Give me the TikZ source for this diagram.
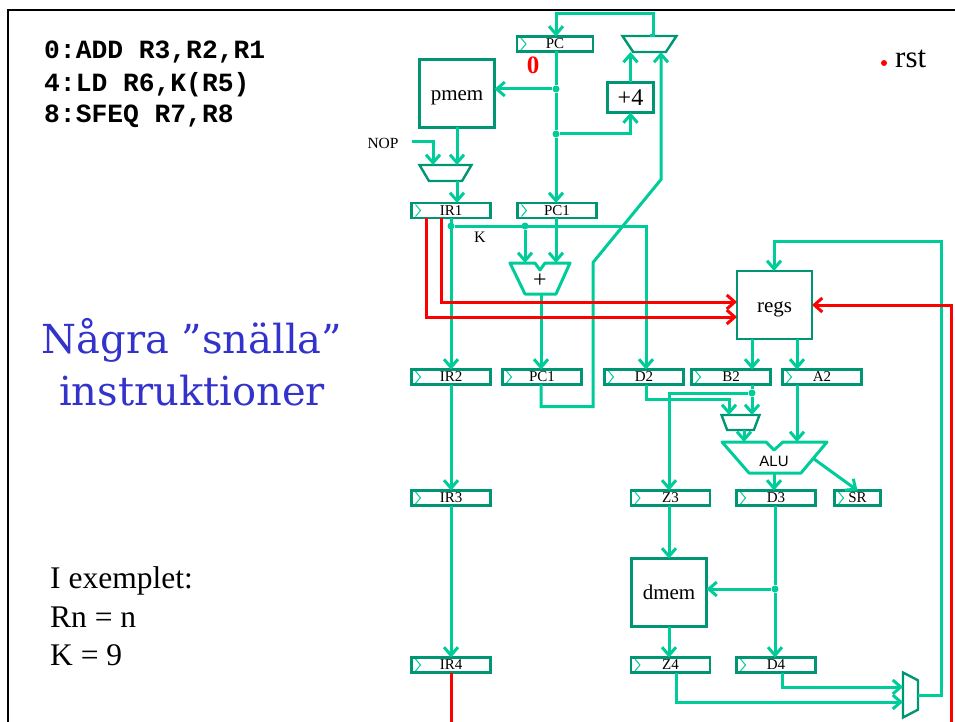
\documentclass[tikz,border=0pt]{standalone}
\usepackage{fontspec}
\setmainfont{Liberation Serif}
\setsansfont{Liberation Sans}
\setmonofont{Liberation Mono}
\newfontfamily\titlefont{DejaVu Serif}
\usetikzlibrary{arrows.meta, shapes.geometric}
\definecolor{wirecol}{RGB}{0,204,153}
\definecolor{boxcol}{RGB}{0,150,115}
\definecolor{titlecol}{RGB}{51,51,204}
\newcommand{\fsz}[1]{\fontsize{#1}{#1}\selectfont}
\newcommand{\blocktext}[1]{\raisebox{-7pt}[0pt][0pt]{#1}}
\tikzset{
  reg/.style   = {draw=boxcol, line width=2.4pt, minimum width=79pt, minimum height=15pt,
                  inner sep=0pt, outer sep=0pt, font=\fsz{15},
                  path picture={\draw[wirecol, line width=1pt]
                    ([xshift=4pt,yshift=6pt]path picture bounding box.west) -- ++(5pt,-6pt) -- ++(-5pt,-6pt);}},
  block/.style = {draw=boxcol, line width=2.6pt, minimum width=75pt, minimum height=68pt,
                  inner sep=0pt, outer sep=0pt, font=\fsz{21}},
  mux/.style   = {draw=boxcol, line width=2.4pt, trapezium, trapezium stretches=true,
                  shape border rotate=180, inner sep=1pt, outer sep=0pt},
  dot/.style   = {circle, fill=wirecol, minimum size=7pt, inner sep=0pt},
  wire/.style  = {wirecol, line width=3pt},
  arrow/.style = {wire, -{Straight Barb[length=8pt, width=14pt, line width=3pt]}},
  rwire/.style = {wire, red},
  rarrow/.style = {arrow, red},
  alupath/.style = {wirecol, line width=3pt, line join=round},
  ghost/.style = {inner sep=0pt},
  code/.style  = {ghost, anchor=base west, font=\fsz{26.3}\ttfamily\bfseries},
  title/.style = {ghost, anchor=base, text=titlecol, font=\fsz{40}\titlefont},
  note/.style  = {ghost, anchor=base west, font=\fsz{31.5}},
}

\begin{document}
\begin{tikzpicture}[x=1pt, y=-1pt]
  \useasboundingbox (0,0) rectangle (955,722);
  \node[ghost, coordinate] at (8,722)  (fbl) {};
  \node[ghost, coordinate] at (8,10)   (ftl) {};
  \node[ghost, coordinate] at (955,10) (ftr) {};
  \draw[line width=2.6pt, line join=miter] (fbl) -- (ftl) -- (ftr);

  % texts
  \node[code] at (44,59)  (code0) {0:ADD R3,R2,R1};
  \node[code] at (44,92)  (code1) {4:LD R6,K(R5)};
  \node[code] at (44,123) (code2) {8:SFEQ R7,R8};
  \node[title] at (192,353) (title1) {Några ”snälla”};
  \node[title] at (192,405) (title2) {instruktioner};
  \node[note] at (50,588) (ex0) {I exemplet:};
  \node[note] at (50,627) (ex1) {Rn = n};
  \node[note] at (50,665) (ex2) {K = 9};
  \node[circle, fill=red, minimum size=6pt, inner sep=0pt] at (884,63) (rstdot) {};
  \node[ghost, anchor=base west, font=\fsz{31}] at (895,68) (rst) {rst};
  \node[ghost, text=red, font=\fsz{25}\bfseries] at (533,65) (zero) {0};
  \node[ghost, font=\fsz{15.5}] at (383,143) (nop) {NOP};
  \node[ghost, font=\fsz{16}] at (480,237) (klab) {K};

  % registers
  \node[reg, minimum width=76pt] at (555,44) (pc) {PC};
  \node[reg] at (451,210.5) (ir1)  {IR1};
  \node[reg] at (557,210.5) (pc1)  {PC1};
  \node[reg] at (451,377)   (ir2)  {IR2};
  \node[reg] at (542,377)   (pc2)  {PC1};
  \node[reg] at (644,377)   (d2)   {D2};
  \node[reg] at (731,377)   (b2)   {B2};
  \node[reg] at (822,377)   (a2)   {A2};
  \node[reg] at (451,498)   (ir3)  {IR3};
  \node[reg] at (670.5,498) (z3)   {Z3};
  \node[reg] at (776,498)   (d3)   {D3};
  \node[reg, minimum width=46pt] at (857.5,498) (sr) {SR};
  \node[reg] at (451,665)   (ir4)  {IR4};
  \node[reg] at (670.5,665) (z4)   {Z4};
  \node[reg] at (776,665)   (d4)   {D4};

  % blocks
  \node[block] at (457,93.5) (pmem) {\blocktext{pmem}};
  \node[block] at (774.5,305) (regs) {\blocktext{regs}};
  \node[block] at (669,592.5) (dmem) {\blocktext{dmem}};
  \node[block, minimum width=46pt, minimum height=30pt, font=\fsz{24}] at (630.5,97.5) (plus4) {+4};

  % muxes
  \node[mux, minimum width=54pt, minimum height=16pt, trapezium angle=72] at (649.5,44) (muxpc) {};
  \node[mux, minimum width=52pt, minimum height=16pt, trapezium angle=74] at (445.5,173) (muxnop) {};
  \node[mux, minimum width=38pt, minimum height=15pt, trapezium angle=78] at (740.5,422.5) (muxb) {};
  \node[mux, shape border rotate=270, minimum width=45pt, minimum height=15pt, trapezium angle=75] at (910.5,695) (muxwb) {};

  % adder and ALU
  \node[ghost, font=\fsz{24}] at (540,281) (adder) {+};
  \node[ghost, coordinate] at (525,263) (addera) {};
  \node[ghost, coordinate] at (556,263) (adderb) {};
  \node[ghost, coordinate] at (541,294) (adderout) {};
  \draw[alupath] (510,263) -- (535,263) -- (540,270) -- (545,263) -- (570,263) -- (556,294) -- (525,294) -- cycle;
  \node[ghost, font=\fsz{15}\sffamily] at (774,461) (alu) {ALU};
  \node[ghost, coordinate] at (744,442) (alua) {};
  \node[ghost, coordinate] at (797,442) (alub) {};
  \node[ghost, coordinate] at (774,473) (aluout) {};
  \node[ghost, coordinate] at (814,459) (aluflag) {};
  \draw[alupath] (722,442) -- (766,442) -- (774,450) -- (783,442) -- (827,442) -- (801,473) -- (749,473) -- cycle;

  % junctions
  \node[dot] at (556,89)  (jpm)  {};
  \node[dot] at (556,134) (jinc) {};
  \node[dot] at (451,226) (jk)   {};
  \node[dot] at (525,226) (jadd) {};
  \node[dot] at (752,393) (jb)   {};
  \node[dot] at (775,589) (jd)   {};

  % green wires
  \draw[arrow] (muxpc.north) -- ++(4,0) -- ++(0,-22) -| (jpm |- pc.north);
  \draw[wire]  (jpm |- pc.south) -- (jpm);
  \draw[wire]  (jpm) -- (jinc);
  \draw[arrow] (jinc) -- (jinc |- pc1.north);
  \draw[arrow] (jpm) -- (jpm -| pmem.east);
  \draw[arrow] (jinc) -| (plus4.south);
  \draw[arrow] (plus4.north) -- (plus4.north |- muxpc.south);
  \draw[arrow] (pc2.south -| adderout) -- ++(0,22) -- ++(52,0) -- ++(0,-144) -- ++(68,-83) -- (661,52);
  \draw[arrow] (nop.east) ++(13,-1) -| (433,165);
  \draw[arrow] (pmem.south) -- (pmem.south |- muxnop.north);
  \draw[arrow] (muxnop.south -| pmem.south) -- (ir1.north -| pmem.south);
  \draw[arrow] (ir1.south) -- (ir2.north);
  \draw[arrow] (jk) -| (d2.north -| 646,0);
  \draw[arrow] (jadd) -- (addera);
  \draw[arrow] (pc1.south -| adderb) -- (adderb);
  \draw[arrow] (adderout) -- (pc2.north -| adderout);
  \draw[arrow] (ir2.south) -- (ir3.north);
  \draw[arrow] (ir3.south) -- (ir4.north);
  \draw[arrow] (regs.south -| jb) -- (b2.north -| jb);
  \draw[arrow] (regs.south -| alub) -- (a2.north -| alub);
  \draw[arrow] (a2.south -| alub) -- (alub);
  \draw[wire]  (b2.south -| jb) -- (jb);
  \draw[arrow] (jb) -- (muxb.north -| jb);
  \draw[arrow] (d2.south -| 646,0) -- ++(0,15) -| (muxb.north -| 729,0);
  \draw[arrow] (jb) -| (z3.north -| dmem.north);
  \draw[arrow] (muxb.south -| alua) -- (alua);
  \draw[arrow] (aluout) -- (d3.north -| aluout);
  \draw[arrow] (aluflag) -- (sr.north);
  \draw[arrow] (z3.south -| dmem.north) -- (dmem.north);
  \draw[arrow] (dmem.south) -- (z4.north -| dmem.south);
  \draw[wire]  (d3.south -| jd) -- (jd);
  \draw[arrow] (jd) -- (d4.north -| jd);
  \draw[arrow] (jd) -- (jd -| dmem.east);
  \draw[arrow] (z4.south -| 676,0) |- (903,702);
  \draw[arrow] (d4.south -| 782,0) |- (903,687);
  \draw[arrow] (muxwb.east) -| (941,241) -| (774,271);

  % red wires
  \draw[rarrow] (ir1.south -| 441,0) |- (regs.west |- 0,302);
  \draw[rarrow] (ir1.south -| 426,0) |- (regs.west |- 0,317);
  \node[ghost, coordinate] at (951,722) (rbot) {};
  \node[ghost, coordinate] at (451,722) (ibot) {};
  \draw[rarrow] (rbot) |- (regs.east);
  \draw[rwire] (ir4.south) -- (ibot);
\end{tikzpicture}
\end{document}
